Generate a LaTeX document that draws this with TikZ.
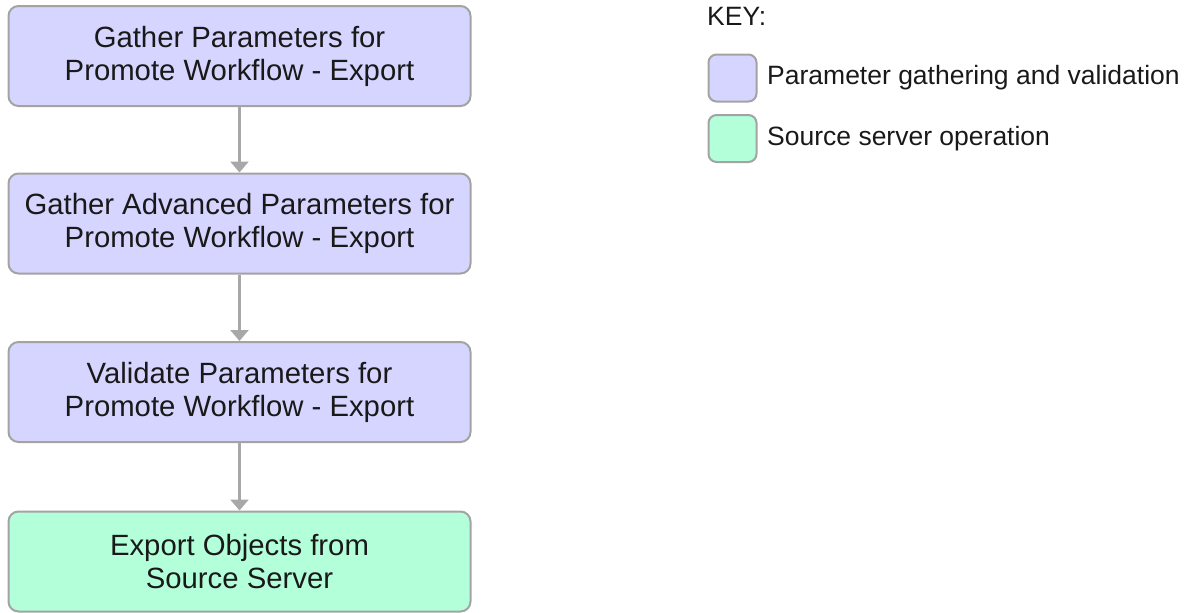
\documentclass[tikz,border=0pt]{standalone}
\usepackage{fontspec}
\setmainfont{Liberation Sans}
\usetikzlibrary{arrows.meta}
\definecolor{lav}{HTML}{D5D5FF}
\definecolor{mint}{HTML}{B3FFD9}
\definecolor{bord}{HTML}{A3A3A3}
\definecolor{arr}{HTML}{A8A8A8}
\tikzset{
  procbox/.style={draw=bord, line width=2pt, rounded corners=10pt, minimum width=462pt, minimum height=100pt, align=center, inner sep=0pt, font=\fontsize{29.3}{33}\selectfont, text=black!90},
  swatch/.style={draw=bord, line width=2pt, rounded corners=8pt, minimum width=48pt, minimum height=47pt, inner sep=0pt},
  keytext/.style={anchor=west, inner sep=0pt, font=\fontsize{26.5}{31}\selectfont, text=black!90},
  flow/.style={draw=arr, line width=2.5pt, -{Triangle[width=18pt,length=11pt]}}
}
\begin{document}
\begin{tikzpicture}[x=1pt,y=1pt]
\useasboundingbox (0,0) rectangle (1189,-613);
\node[procbox, fill=lav] (b1) at (239.5,-56) {Gather Parameters for\\Promote Workflow - Export};
\node[procbox, fill=lav] (b2) at (239.5,-223.5) {Gather Advanced Parameters for\\Promote Workflow - Export};
\node[procbox, fill=lav] (b3) at (239.5,-392) {Validate Parameters for\\Promote Workflow - Export};
\node[procbox, fill=mint] (b4) at (239.5,-561.5) {Export Objects from\\Source Server};
\draw[flow] (b1) -- (b2);
\draw[flow] (b2) -- (b3);
\draw[flow] (b3) -- (b4);
\node[keytext] (key) at (707,-16) {KEY:};
\node[swatch, fill=lav] (s1) at (732.5,-78) {};
\node[swatch, fill=mint] (s2) at (732.5,-138.5) {};
\node[keytext] (t1) at (767,-78) {Parameter gathering and validation};
\node[keytext] (t2) at (767,-138.5) {Source server operation};
\end{tikzpicture}
\end{document}
